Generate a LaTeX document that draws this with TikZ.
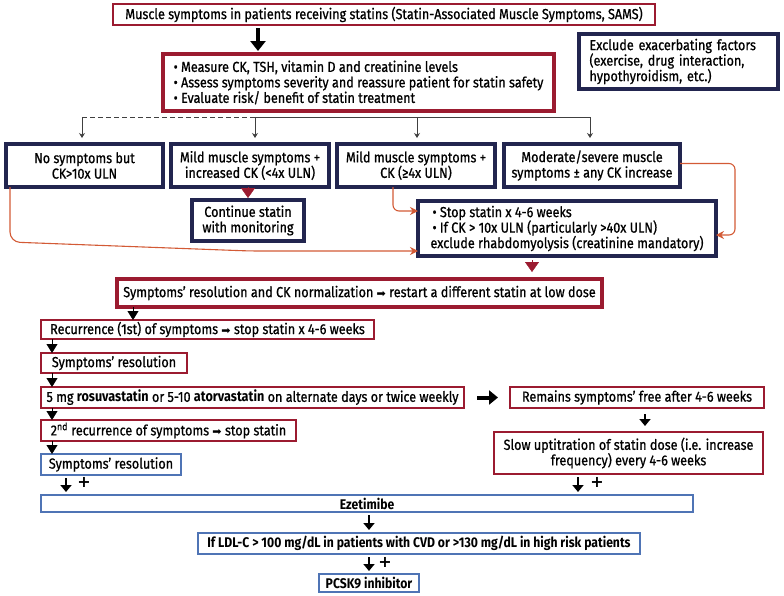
\documentclass[tikz,border=0pt]{standalone}
\usepackage{fontspec}
\setmainfont{Fira Sans}[FakeStretch=0.87,UprightFeatures={FakeBold=0.8}]
\newfontfamily\djv{DejaVu Sans}
\usetikzlibrary{arrows.meta,calc}
\definecolor{mred}{HTML}{9B1B30}
\definecolor{navy}{HTML}{22254F}
\definecolor{mblue}{HTML}{4F74B5}
\definecolor{morange}{HTML}{D35A35}
\newcommand\rarr{{\djv\fontsize{11}{10}\selectfont ➡}}
\newcommand\bx[8][]{\node[#3,anchor=north west,minimum width={#6-#4},minimum height={#7-#5},#1] (#2) at (#4,#5) {#8};}
\tikzset{
  box/.style={rectangle,outer sep=0pt,inner sep=0pt,font=\fontsize{14.5}{15.5}\selectfont,align=center},
  redthin/.style={box,draw=mred,line width=1.6pt},
  redthick/.style={box,draw=mred,line width=3.5pt},
  navybox/.style={box,draw=navy,line width=4pt},
  bluebox/.style={box,draw=mblue,line width=1.8pt},
  bottomtxt/.style={font=\fontsize{14}{15}\selectfont\bfseries},
  gline/.style={draw=black!75,line width=0.8pt},
  garr/.style={gline,-{Stealth[length=5pt,width=6pt]},shorten >=6pt},
  redtri/.style={draw=mred,fill=mred,line width=0.4pt,-{Triangle[length=10pt,width=14pt]}},
  blktri/.style={draw=black,fill=black,line width=0.4pt,-{Triangle[length=9pt,width=11pt]}},
  oline/.style={draw=morange,line width=1.1pt,-{Stealth[length=8pt,width=8pt]}},
  bigarr/.style={draw=black,line width=4.5pt,-{Triangle[length=10pt,width=15pt]}},
  smarr/.style={draw=black,line width=2.8pt,-{Triangle[length=7pt,width=11pt]},shorten <=3pt,shorten >=3pt},
  plus/.style={font=\djv\bfseries\fontsize{16}{16}\selectfont,inner sep=0pt}
}
\begin{document}
\begin{tikzpicture}[x=1pt,y=-1pt]
\useasboundingbox (0,0) rectangle (784,595);
\bx{top}{redthin}{113}{4}{655}{25}{Muscle symptoms in patients receiving statins (Statin-Associated Muscle Symptoms, SAMS)}
\bx[align=left]{box2}{redthick}{163}{54}{554}{111}{• Measure CK, TSH, vitamin D and creatinine levels\\• Assess symptoms severity and reassure patient for statin safety\\• Evaluate risk/ benefit of statin treatment}
\bx[align=left,text width=178pt]{excl}{navybox}{579}{34}{778}{89}{Exclude exacerbating factors\\(exercise, drug interaction,\\hypothyroidism, etc.)}
\bx{A}{navybox}{6}{144}{163}{187}{No symptoms but\\CK>10x ULN}
\bx{B}{navybox}{171}{144}{329}{187}{Mild muscle symptoms +\\increased CK (<4x ULN)}
\bx{C}{navybox}{337}{144}{495}{187}{Mild muscle symptoms +\\CK (≥4x ULN)}
\bx{D}{navybox}{504}{144}{680}{187}{Moderate/severe muscle\\symptoms ± any CK increase}
\bx{cont}{navybox}{192}{200}{304}{241}{Continue statin\\with monitoring}
\bx[align=left]{stop}{navybox}{418}{201}{716}{256}{\hspace*{2pt}• Stop statin x 4-6 weeks\\\hspace*{2pt}• If CK > 10x ULN (particularly >40x ULN)\\exclude rhabdomyolysis (creatinine mandatory)}
\bx{rs}{redthick}{117}{279}{602}{307}{Symptoms’ resolution and CK normalization \rarr\ restart a different statin at low dose}
\bx{rec1}{redthin}{41}{320}{374}{339}{Recurrence (1st) of symptoms \rarr\ stop statin x 4-6 weeks}
\bx{sr1}{redthin}{41}{353}{187}{373}{Symptoms’ resolution}
\bx{dose}{redthin}{41}{387}{464}{408}{5 mg \textbf{rosuvastatin} or 5-10 \textbf{atorvastatin} on alternate days or twice weekly}
\bx{rem}{redthin}{510}{387}{764}{408}{Remains symptoms’ free after 4-6 weeks}
\bx{slow}{redthin}{494}{432}{763}{474}{Slow uptitration of statin dose (i.e. increase\\frequency) every 4-6 weeks}
\bx{rec2}{redthin}{41}{420}{296}{441}{2\textsuperscript{nd} recurrence of symptoms \rarr\ stop statin}
\bx{sr2}{bluebox}{41}{454}{181}{475}{Symptoms’ resolution}
\bx[bottomtxt]{eze}{bluebox}{41}{495}{693}{512}{Ezetimibe}
\bx[bottomtxt]{ldl}{bluebox}{198}{533}{640}{554}{If LDL-C > 100 mg/dL in patients with CVD or >130 mg/dL in high risk patients}
\bx[bottomtxt]{pcsk}{bluebox}{319}{574}{419}{592}{PCSK9 inhibitor}
% top arrow
\coordinate (ta) at (258,0);
\draw[bigarr,shorten <=3pt,shorten >=3pt] (ta |- top.south) -- (ta |- box2.north);
% branch lines
\coordinate (h1) at (82,117);
\coordinate (h2) at (255,117);
\coordinate (h3) at (417,117);
\coordinate (h4) at (590,117);
\draw[gline,dashed,dash pattern=on 5pt off 3pt] (h1) -- (h2);
\draw[gline] (h2) -- (h4);
\draw[garr] (h1) -- (h1 |- A.north);
\draw[garr] (h2) -- (h2 |- B.north);
\draw[garr] (h3) -- (h3 |- C.north);
\draw[garr] (h4) -- (h4 |- D.north);
% red triangles
\draw[redtri,shorten >=2pt] (cont.north |- B.south) -- (cont.north);
\coordinate (tx) at (532,0);
\draw[redtri,shorten <=4pt,shorten >=7pt] (tx |- stop.south) -- (tx |- rs.north);
% black triangles
\coordinate (tb) at (133,0);
\coordinate (tl) at (52,0);
\draw[blktri] (tb |- rs.south) -- (tb |- rec1.north);
\draw[blktri] (tl |- rec1.south) -- (tl |- sr1.north);
\draw[blktri] (tl |- sr1.south) -- (tl |- dose.north);
\draw[blktri] (tl |- dose.south) -- (tl |- rec2.north);
\draw[blktri] (tl |- rec2.south) -- (tl |- sr2.north);
% orange connectors
\coordinate (o1) at (10,0);
\draw[oline,rounded corners=10pt] (o1 |- A.south) -- ($(o1 |- A.south)+(0,55)$) -- (250,251) -- ($(stop.south west)+(0,-5)$);
\coordinate (o2) at (393,0);
\draw[oline,rounded corners=6pt] (o2 |- C.south) |- ($(stop.north west)+(0,10)$);
\draw[oline,rounded corners=6pt] ($(D.east)+(0,-2)$) -- ++(55,0) |- ($(stop.south east)+(0,-21)$);
% right side arrows
\draw[bigarr,line width=4pt,-{Triangle[length=9pt,width=14pt]},shorten <=13pt,shorten >=12pt] (dose.east) -- (rem.west);
\coordinate (tc) at (645,0);
\draw[smarr,shorten <=6pt,shorten >=6pt] (tc |- rem.south) -- (tc |- slow.north);
% bottom arrows
\coordinate (td) at (66,0);
\coordinate (te) at (578,0);
\coordinate (tf) at (369,0);
\draw[smarr] (td |- sr2.south) -- (td |- eze.north);
\draw[smarr] (te |- slow.south) -- (te |- eze.north);
\draw[smarr] (tf |- eze.south) -- (tf |- ldl.north);
\draw[smarr] (tf |- ldl.south) -- (tf |- pcsk.north);
\node[plus] (p1) at (84,482) {+};
\node[plus] (p2) at (597,482) {+};
\node[plus] (p3) at (385,562) {+};
\end{tikzpicture}
\end{document}
